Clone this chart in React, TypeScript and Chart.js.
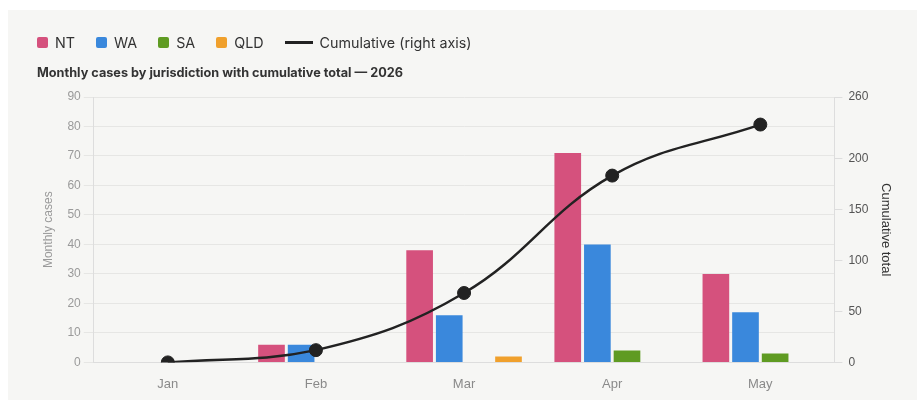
import React, { useEffect, useRef } from "react";
import { Chart, registerables } from "chart.js";

Chart.register(...registerables);

const months = ["Jan", "Feb", "Mar", "Apr", "May"];
const ntCases = [0, 6, 38, 71, 30];
const waCases = [0, 6, 16, 40, 17];
const saCases = [0, 0, 0, 4, 3];
const qldCases = [0, 0, 2, 0, 0];
const cumulativeTotal = [0, 12, 68, 183, 233];

const barNames = ["NT", "WA", "SA", "QLD"];
const barColors = ["#d5517d", "#3a88dc", "#5f9b22", "#f0a02c"];
const lineName = "Cumulative (right axis)";
const lineColor = "#222222";
const chartTitle = "Monthly cases by jurisdiction with cumulative total — 2026";

const leftMax = 90;
const leftStep = 10;
const rightMax = 260;
const rightStep = 50;

const TICK_FONT = "'Liberation Sans', Arial, sans-serif";
const UI_FONT = "Inter, 'Liberation Sans', Arial, sans-serif";

export default function App() {
  const canvasRef = useRef<HTMLCanvasElement | null>(null);

  useEffect(() => {
    if (!canvasRef.current) return;
    const barSeries = [ntCases, waCases, saCases, qldCases];
    const chart = new Chart(canvasRef.current, {
      type: "bar",
      data: {
        labels: months,
        datasets: [
          {
            type: "line",
            label: lineName,
            data: cumulativeTotal,
            yAxisID: "y1",
            borderColor: lineColor,
            backgroundColor: lineColor,
            borderWidth: 2.5,
            pointRadius: 6.5,
            pointBackgroundColor: lineColor,
            pointBorderColor: lineColor,
            pointBorderWidth: 1,
            tension: 0.4,
            order: 0,
          } as any,
          ...barSeries.map((d, i) => ({
            type: "bar" as const,
            label: barNames[i],
            data: d,
            yAxisID: "y",
            backgroundColor: barColors[i],
            borderWidth: 0,
            order: 1,
          })),
        ],
      },
      options: {
        responsive: false,
        animation: false,
        layout: { padding: { top: 87, left: 29, right: 20, bottom: 8 } },
        plugins: {
          legend: { display: false },
          title: { display: false },
          tooltip: { enabled: false },
        },
        scales: {
          x: {
            grid: { display: false, drawTicks: false },
            border: { display: true, color: "#dddddd", width: 1 },
            ticks: {
              color: "#8a8a8a",
              padding: 14,
              font: { family: TICK_FONT, size: 13 },
            },
          },
          y: {
            position: "left",
            min: 0,
            max: leftMax,
            ticks: {
              stepSize: leftStep,
              color: "#9a9a9a",
              padding: 3,
              font: { family: TICK_FONT, size: 12 },
            },
            grid: { color: "#e6e6e4", tickLength: 10, drawTicks: true },
            border: { display: true, color: "#dddddd" },
            title: {
              display: true,
              text: "Monthly cases",
              color: "#9a9a9a",
              font: { family: TICK_FONT, size: 12 },
              padding: { top: 4, bottom: 9 },
            },
          },
          y1: {
            position: "right",
            min: 0,
            max: rightMax,
            ticks: {
              stepSize: rightStep,
              color: "#555555",
              padding: 6,
              font: { family: TICK_FONT, size: 12 },
            },
            grid: { drawOnChartArea: false, color: "#dddddd", tickLength: 8 },
            border: { display: true, color: "#dddddd" },
            title: {
              display: true,
              text: "Cumulative total",
              color: "#333333",
              font: { family: TICK_FONT, size: 13 },
              padding: { top: 4, bottom: 3 },
            },
          },
        },
      },
    });
    return () => chart.destroy();
  }, []);

  const legendItems = [
    ...barNames.map((n, i) => ({ name: n, color: barColors[i], line: false })),
    { name: lineName, color: lineColor, line: true },
  ];

  return (
    <div
      style={{
        position: "absolute",
        left: 8,
        top: 10,
        width: 909,
        height: 390,
        background: "#f6f6f4",
        overflow: "hidden",
      }}
    >
      <canvas ref={canvasRef} width={909} height={404} style={{ position: "absolute", left: 0, top: 0 }} />
      <div
        style={{
          position: "absolute",
          left: 29,
          top: 24,
          height: 16,
          display: "flex",
          alignItems: "center",
          fontFamily: UI_FONT,
          fontSize: 14.3,
          color: "#333",
          whiteSpace: "nowrap",
        }}
      >
        {legendItems.map((it) => (
          <div key={it.name} style={{ display: "flex", alignItems: "center", marginRight: 21 }}>
            {it.line ? (
              <span style={{ display: "inline-block", width: 28, height: 3, background: it.color, marginRight: 7 }} />
            ) : (
              <span
                style={{
                  display: "inline-block",
                  width: 11,
                  height: 11,
                  borderRadius: 2,
                  background: it.color,
                  marginRight: 7,
                }}
              />
            )}
            <span>{it.name}</span>
          </div>
        ))}
      </div>
      <div
        style={{
          position: "absolute",
          left: 29,
          top: 55,
          fontFamily: UI_FONT,
          fontSize: 12.7,
          lineHeight: "15px",
          fontWeight: 700,
          color: "#333",
          whiteSpace: "nowrap",
        }}
      >
        {chartTitle}
      </div>
    </div>
  );
}
